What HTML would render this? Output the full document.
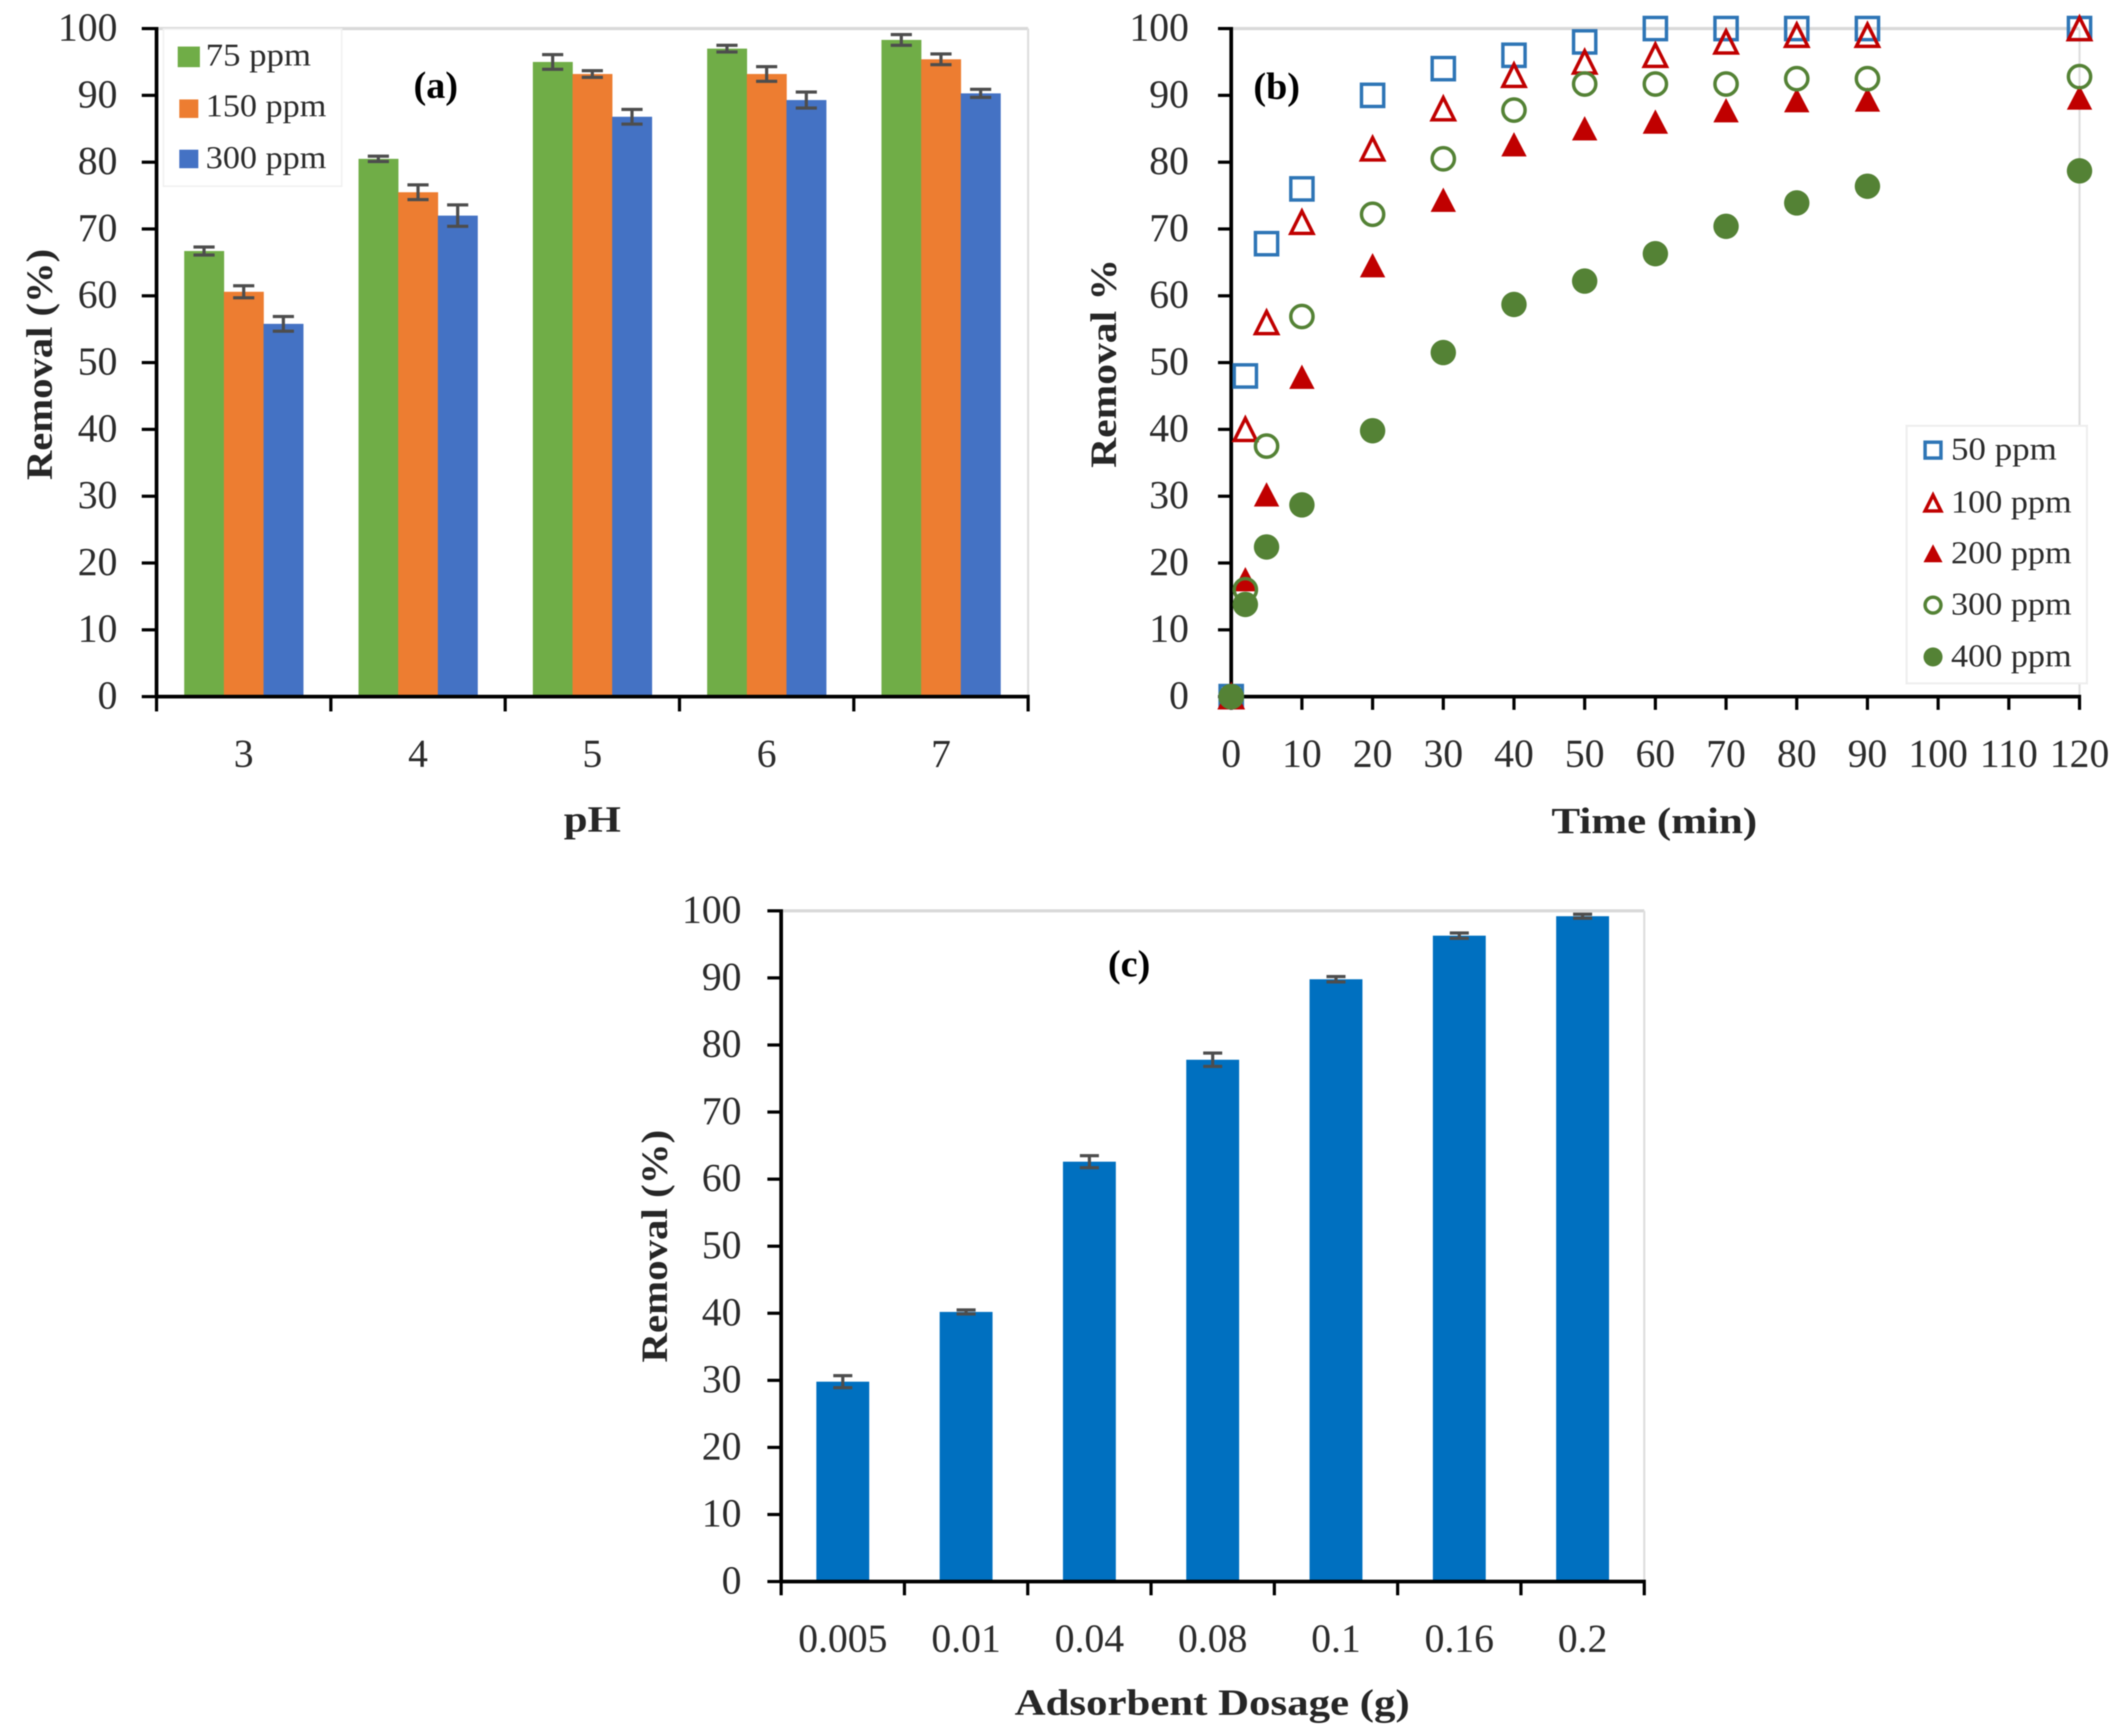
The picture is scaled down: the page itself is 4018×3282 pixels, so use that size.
<!DOCTYPE html>
<html lang="en">
<head>
<meta charset="utf-8">
<title>Removal efficiency charts</title>
<style>
html,body{margin:0;padding:0;background:#fff;}
svg{display:block;font-family:"Liberation Serif",serif;filter:blur(1px);}
.tick{font-size:75px;fill:#2b2b2b;}
.title{font-size:70px;font-weight:bold;fill:#262626;}
.leg{font-size:60px;fill:#2b2b2b;}
.tag{font-size:72px;font-weight:bold;fill:#000;}
</style>
</head>
<body>
<svg id="fig" xmlns="http://www.w3.org/2000/svg" width="4018" height="3282" viewBox="0 0 4018 3282">
  <rect width="4018" height="3282" fill="#fff"/>
  <g id="panelA"></g>
  <g id="panelB"></g>
  <g id="panelC"></g>

  <text class="title" transform="translate(98,689) rotate(-90)" text-anchor="middle" textLength="437" lengthAdjust="spacingAndGlyphs">Removal (%)</text>
  <text class="title" x="1120" y="1572" text-anchor="middle" textLength="108" lengthAdjust="spacingAndGlyphs">pH</text>
  <text class="tag" x="824" y="185" text-anchor="middle">(a)</text>

  <g>
    <rect x="309" y="55" width="337" height="297" fill="#fff" stroke="#f0f0f0" stroke-width="3"/>
    <rect x="336" y="88" width="42" height="39" fill="#70ad47"/>
    <text class="leg" x="389" y="124" textLength="199" lengthAdjust="spacingAndGlyphs">75 ppm</text>
    <rect x="339" y="188" width="36" height="35" fill="#ed7d31"/>
    <text class="leg" x="389" y="220" textLength="228" lengthAdjust="spacingAndGlyphs">150 ppm</text>
    <rect x="339" y="283" width="36" height="35" fill="#4472c4"/>
    <text class="leg" x="389" y="318" textLength="228" lengthAdjust="spacingAndGlyphs">300 ppm</text>
  </g>

  <text class="title" transform="translate(2110,687) rotate(-90)" text-anchor="middle" textLength="395" lengthAdjust="spacingAndGlyphs">Removal %</text>
  <text class="title" x="3128" y="1575" text-anchor="middle" textLength="389" lengthAdjust="spacingAndGlyphs">Time (min)</text>
  <text class="tag" x="2414" y="187" text-anchor="middle">(b)</text>

  <text class="title" transform="translate(1261,2356) rotate(-90)" text-anchor="middle" textLength="440" lengthAdjust="spacingAndGlyphs">Removal (%)</text>
  <text class="title" x="2292" y="3242" text-anchor="middle" textLength="747" lengthAdjust="spacingAndGlyphs">Adsorbent Dosage (g)</text>
  <text class="tag" x="2135" y="1846" text-anchor="middle">(c)</text>

  <g id="legendB">
    <rect x="3605" y="805" width="341" height="487" fill="#fff" stroke="#eeeeee" stroke-width="4"/>
  </g>
</svg>

<script>
// Shared
const yTickLabels = ["0","10","20","30","40","50","60","70","80","90","100"];

// Panel (a)
const phCategories = ["3","4","5","6","7"];
const ph75 = [66.7,80.5,95.0,97.0,98.3];
const ph150 = [60.6,75.5,93.2,93.2,95.4];
const ph300 = [55.8,72.0,86.8,89.3,90.3];
const ph75Err = [0.6,0.4,1.1,0.5,0.8];
const ph150Err = [0.9,1.1,0.5,1.1,0.8];
const ph300Err = [1.1,1.6,1.1,1.2,0.6];

// Panel (b)
const timeTickLabels = ["0","10","20","30","40","50","60","70","80","90","100","110","120"];
const timeValues = [0,2,5,10,20,30,40,50,60,70,80,90,120];
const time50 = [0,48,67.8,76,90,94,96,98,100,100,100,100,100];
const time100 = [0,40,56,71,82,88,93,95,96,98,99,99,100];
const time200 = [0,17.5,30.2,47.8,64.5,74.3,82.6,85,86,87.7,89.2,89.3,89.6];
const time300 = [0,16,37.5,56.9,72.2,80.5,87.8,91.7,91.7,91.7,92.5,92.5,92.8];
const time400 = [0,13.8,22.4,28.7,39.8,51.5,58.7,62.2,66.3,70.4,73.9,76.4,78.7];
const timeLegendLabels = ["50 ppm","100 ppm","200 ppm","300 ppm","400 ppm"];

// Panel (c)
const doseCategories = ["0.005","0.01","0.04","0.08","0.1","0.16","0.2"];
const doseValues = [29.8,40.2,62.6,77.8,89.8,96.3,99.2];
const doseErr = [0.9,0.3,0.9,1.0,0.4,0.4,0.3];

const NS = "http://www.w3.org/2000/svg";
function el(parent, tag, attrs, text){
  const e = document.createElementNS(NS, tag);
  for (const k in attrs) e.setAttribute(k, attrs[k]);
  if (text !== undefined) e.textContent = text;
  parent.appendChild(e);
  return e;
}

function makePanel(left, right, top, bottom){
  return {
    left, right, top, bottom,
    y: v => bottom - (bottom - top) * v / 100,
    band: (i, n) => left + (right - left) * (i + 0.5) / n,
    edge: (i, n) => left + (right - left) * i / n,
    linear: (v, max) => left + (right - left) * v / max
  };
}

function frame(g, p, xTickPositions, labelPositions, labels, yLabelX, xLabelY, tickLen){
  const top = el(g, "line", {x1:p.left, x2:p.right, y1:p.top, y2:p.top, stroke:"#d9d9d9", "stroke-width":6});
  
  
  const rgt = el(g, "line", {x1:p.right, x2:p.right, y1:p.top, y2:p.bottom, stroke:"#dedede", "stroke-width":4});
  
  
  yTickLabels.forEach((lab, i) => {
    const v = Number(lab);
    const t = el(g, "text", {class:"tick", x:yLabelX, y:p.y(v) + 23, "text-anchor":"end"}, lab);
    
    
    const tk = el(g, "line", {x1:p.left - tickLen, x2:p.left, y1:p.y(v), y2:p.y(v), stroke:"#000", "stroke-width":6});
    
    
  });
  labels.forEach((lab, i) => {
    const t = el(g, "text", {class:"tick", x:labelPositions[i], y:xLabelY, "text-anchor":"middle"}, lab);
    
    
  });
  xTickPositions.forEach(x => {
    const tk = el(g, "line", {x1:x, x2:x, y1:p.bottom, y2:p.bottom + tickLen, stroke:"#000", "stroke-width":6});
    
    
  });
}

function axes(g, p){
  const ya = el(g, "line", {x1:p.left, x2:p.left, y1:p.top - 3, y2:p.bottom + 3, stroke:"#000", "stroke-width":7});
  
  
  const xa = el(g, "line", {x1:p.left - 3, x2:p.right + 3, y1:p.bottom, y2:p.bottom, stroke:"#000", "stroke-width":7});
  
  
}

function errorBar(g, x, yHi, yLo, cap){
  const s = el(g, "path", {
    d:"M"+(x-cap)+" "+yHi+"H"+(x+cap)+"M"+(x-cap)+" "+yLo+"H"+(x+cap)+"M"+x+" "+yHi+"V"+yLo,
    stroke:"#4d4d4d", "stroke-width":6, fill:"none"});
  
  
}

/* ---------- panel (a) ---------- */
(function(){
  const g = document.getElementById("panelA");
  const p = makePanel(296, 1944, 54, 1317);
  const n = phCategories.length;
  const edges = [];
  for (let i = 0; i <= n; i++) edges.push(p.edge(i, n));
  const centers = phCategories.map((c, i) => p.band(i, n));
  frame(g, p, edges, centers, phCategories, 222, 1450, 28);
  const barW = 75;
  const series = [[ph75, ph75Err, "#70ad47", -1], [ph150, ph150Err, "#ed7d31", 0], [ph300, ph300Err, "#4472c4", 1]];
  series.forEach(s => {
    s[0].forEach((v, i) => {
      const cx = centers[i] + s[3] * barW;
      const b = el(g, "rect", {x:cx - barW/2, y:p.y(v), width:barW + 0.5, height:p.bottom - p.y(v), fill:s[2]});
      
      
    });
  });
  series.forEach(s => {
    s[0].forEach((v, i) => {
      const cx = centers[i] + s[3] * barW;
      errorBar(g, cx, p.y(v + s[1][i]), p.y(v - s[1][i]), 20);
    });
  });
  axes(g, p);
})();

/* ---------- markers ---------- */
function marker(g, kind, x, y, size){
  const r = size / 2;
  let m;
  if (kind === "square") {
    m = el(g, "rect", {x:x - r + 3, y:y - r + 3, width:size - 6, height:size - 6, fill:"none", stroke:"#2e75b6", "stroke-width":6.5});
  } else if (kind === "tri-open") {
    m = el(g, "path", {d:"M"+x+" "+(y-r+3)+"L"+(x+r-3)+" "+(y+r-3)+"L"+(x-r+3)+" "+(y+r-3)+"Z", fill:"none", stroke:"#c00000", "stroke-width":6.5});
  } else if (kind === "tri-fill") {
    m = el(g, "path", {d:"M"+x+" "+(y-r)+"L"+(x+r)+" "+(y+r-2)+"L"+(x-r)+" "+(y+r-2)+"Z", fill:"#c00000"});
  } else if (kind === "circle-open") {
    m = el(g, "circle", {cx:x, cy:y, r:r - 3, fill:"none", stroke:"#548235", "stroke-width":6.5});
  } else {
    m = el(g, "circle", {cx:x, cy:y, r:r, fill:"#548235"});
  }
  return m;
}

/* ---------- panel (b) ---------- */
(function(){
  const g = document.getElementById("panelB");
  const p = makePanel(2328, 3932, 54, 1317);
  const positions = timeTickLabels.map(l => p.linear(Number(l), 120));
  frame(g, p, positions, positions, timeTickLabels, 2248, 1450, 25);
  axes(g, p);
  const series = [[time50,"square"],[time100,"tri-open"],[time200,"tri-fill"],[time300,"circle-open"],[time400,"circle-fill"]];
  series.forEach(s => {
    s[0].forEach((v, i) => {
      const m = marker(g, s[1], p.linear(timeValues[i], 120), p.y(v), 48);
      
      
    });
  });
  const lg = document.getElementById("legendB");
  document.getElementById("fig").appendChild(lg);
  const rowY = [851, 951, 1047, 1144, 1242];
  timeLegendLabels.forEach((lab, i) => {
    const m = marker(lg, series[i][1], 3655, rowY[i], 36);
    
    
    const t = el(lg, "text", {class:"leg", x:3689, y:rowY[i] + 18, textLength: lab.length === 6 ? 200 : 228, lengthAdjust:"spacingAndGlyphs"}, lab);
    
    
  });
})();

/* ---------- panel (c) ---------- */
(function(){
  const g = document.getElementById("panelC");
  const p = makePanel(1477, 3109, 1722, 2990);
  const n = doseCategories.length;
  const edges = [];
  for (let i = 0; i <= n; i++) edges.push(p.edge(i, n));
  const centers = doseCategories.map((c, i) => p.band(i, n));
  frame(g, p, edges, centers, doseCategories, 1402, 3123, 26);
  const barW = 100;
  doseValues.forEach((v, i) => {
    const b = el(g, "rect", {x:centers[i] - barW/2, y:p.y(v), width:barW, height:p.bottom - p.y(v), fill:"#0070c0"});
    
    
  });
  doseValues.forEach((v, i) => {
    errorBar(g, centers[i], p.y(v + doseErr[i]), p.y(v - doseErr[i]), 18);
  });
  axes(g, p);
})();
</script>
</body>
</html>
